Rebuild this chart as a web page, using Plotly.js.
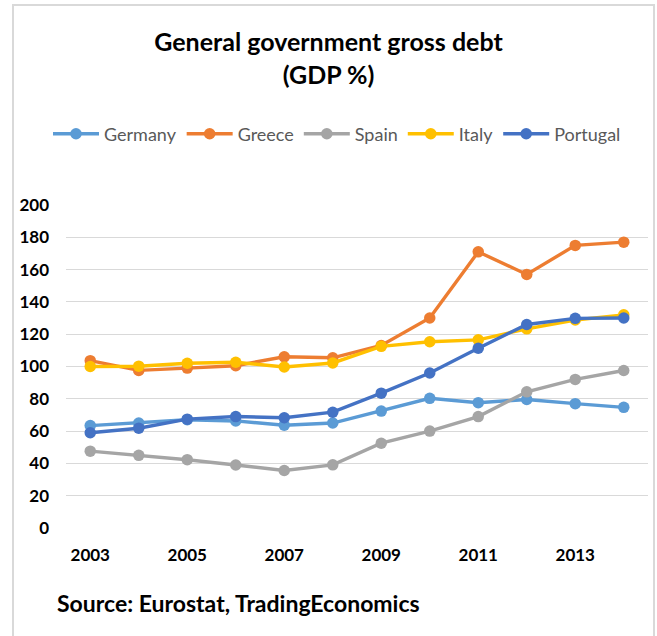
<!DOCTYPE html>
<html>
<head>
<meta charset="utf-8">
<script src="https://cdn.plot.ly/plotly-3.0.1.min.js"></script>
<style>
  html, body { margin: 0; padding: 0; background: #fff; }
  #wrap { position: relative; width: 657px; height: 636px; overflow: hidden; }
  #frame { position: absolute; left: 12px; top: 4px; width: 639px; height: 660px; border: 2px solid #d9d9d9; pointer-events: none; z-index: 5; }
  #chart { position: absolute; left: 0; top: 0; width: 657px; height: 636px; }
</style>
</head>
<body>
<div id="wrap">
  <div id="chart"></div>
  <div id="frame"></div>
</div>
<script>
const years = [2003, 2004, 2005, 2006, 2007, 2008, 2009, 2010, 2011, 2012, 2013, 2014];
const germany  = [63.4, 65.0, 67.0, 66.3, 63.6, 65.0, 72.4, 80.3, 77.6, 79.6, 77.0, 74.7];
const greece   = [103.6, 97.6, 99.0, 100.5, 106.0, 105.4, 113.0, 130.0, 171.0, 157.0, 175.0, 177.0];
const spain    = [47.6, 45.0, 42.3, 39.0, 35.6, 39.1, 52.5, 60.0, 69.0, 84.3, 92.0, 97.5];
const italy    = [100.0, 100.2, 102.0, 102.6, 99.7, 102.2, 112.5, 115.3, 116.5, 123.3, 128.8, 132.0];
const portugal = [59.0, 61.8, 67.4, 69.0, 68.3, 71.7, 83.5, 96.0, 111.3, 126.0, 129.8, 130.0];

const seriesNames  = ["Germany", "Greece", "Spain", "Italy", "Portugal"];
const seriesValues = [germany, greece, spain, italy, portugal];
const seriesColors = ["#5B9BD5", "#ED7D31", "#A5A5A5", "#FFC000", "#4472C4"];

const yTicks = [0, 20, 40, 60, 80, 100, 120, 140, 160, 180, 200];
const xTicks = [2003, 2005, 2007, 2009, 2011, 2013];

const traces = seriesNames.map((name, i) => ({
  type: "scatter",
  mode: "lines+markers",
  name: name,
  x: years,
  y: seriesValues[i],
  line: { color: seriesColors[i], width: 3.4 },
  marker: { color: seriesColors[i], size: 11.5 }
}));

const FONT = "Lato, 'Open Sans', sans-serif";

const layout = {
  width: 657,
  height: 636,
  paper_bgcolor: "#ffffff",
  plot_bgcolor: "#ffffff",
  margin: { l: 66, r: 9, t: 205, b: 108 },
  showlegend: true,
  legend: {
    orientation: "h",
    x: 48 / 657, xanchor: "left", xref: "container",
    y: 1 - 134 / 636, yanchor: "middle", yref: "container",
    font: { family: FONT, size: 18, color: "#595959" },
    itemwidth: 46,
    tracegroupgap: 0,
    bgcolor: "rgba(0,0,0,0)"
  },
  title: {
    text: "General government gross debt<br>(GDP %)",
    x: 0.5, xanchor: "center", xref: "container",
    y: 1 - 51 / 636, yanchor: "middle", yref: "container",
    font: { family: FONT, size: 25, color: "#000000", weight: "bold" }
  },
  xaxis: {
    range: [2002.5, 2014.5],
    tickvals: xTicks,
    ticktext: xTicks.map(String),
    showgrid: false,
    zeroline: false,
    showline: false,
    ticks: "",
    ticklabelstandoff: 15,
    tickfont: { family: FONT, size: 17, color: "#000000", weight: "bold" },
    fixedrange: true
  },
  yaxis: {
    range: [0, 200],
    tickvals: yTicks,
    ticktext: yTicks.map(String),
    showgrid: true,
    gridcolor: "#d9d9d9",
    gridwidth: 1,
    zeroline: false,
    showline: false,
    ticks: "",
    ticklabelstandoff: 16,
    tickfont: { family: FONT, size: 17, color: "#000000", weight: "bold" },
    fixedrange: true
  },
  annotations: [{
    text: "Source: Eurostat, TradingEconomics",
    xref: "paper", yref: "paper",
    x: (55 - 66) / 582, xanchor: "left",
    y: -(603 - 528) / 323, yanchor: "middle",
    showarrow: false,
    font: { family: FONT, size: 23, color: "#000000", weight: "bold" }
  }]
};

Plotly.newPlot("chart", traces, layout, { displayModeBar: false, staticPlot: true });
</script>
</body>
</html>
